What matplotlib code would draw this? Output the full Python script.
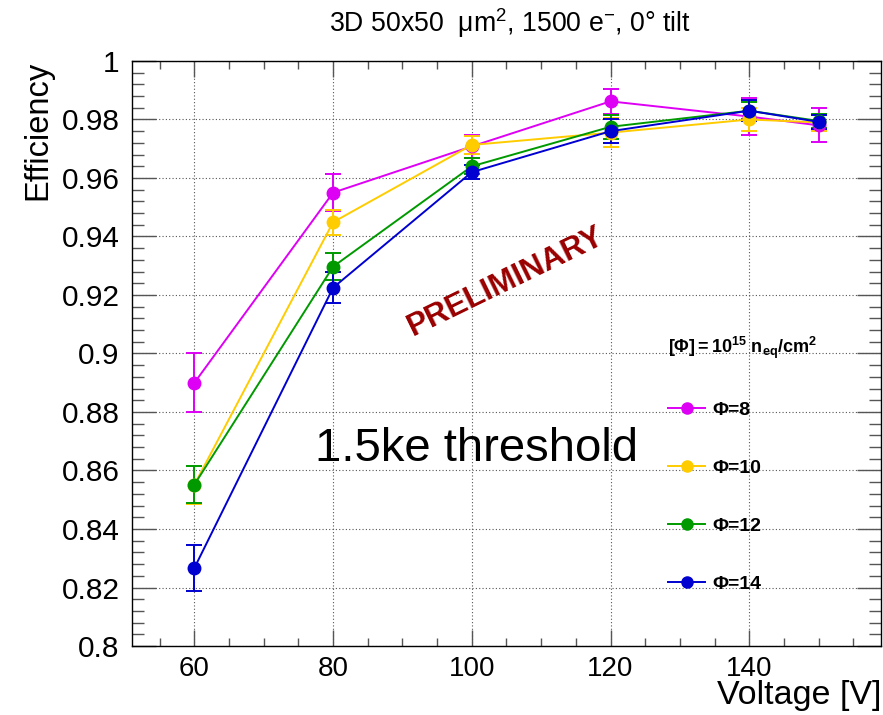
import matplotlib
matplotlib.use("Agg")
import matplotlib.pyplot as plt
from matplotlib.lines import Line2D
from matplotlib.ticker import MultipleLocator

plt.rcParams['font.family'] = ['Liberation Sans', 'DejaVu Sans']
plt.rcParams['mathtext.fontset'] = 'custom'
plt.rcParams['mathtext.rm'] = 'Liberation Sans'
plt.rcParams['mathtext.it'] = 'Liberation Sans:italic'
plt.rcParams['mathtext.bf'] = 'Liberation Sans:bold'

voltage = [60, 80, 100, 120, 140, 150]
labels = ["Φ=8", "Φ=10", "Φ=12", "Φ=14"]
colors = ["#dd00f5", "#ffcc00", "#009a00", "#0000d0"]
eff_phi8 = [0.890, 0.9550, 0.9708, 0.9862, 0.9810, 0.9780]
err_phi8 = [0.0100, 0.0064, 0.0038, 0.0042, 0.0063, 0.0058]
eff_phi10 = [0.8552, 0.9449, 0.9713, 0.9755, 0.9800, 0.9790]
err_phi10 = [0.0065, 0.0043, 0.0030, 0.0050, 0.0040, 0.0030]
eff_phi12 = [0.8552, 0.9297, 0.9640, 0.9775, 0.9830, 0.9795]
err_phi12 = [0.0063, 0.0045, 0.0028, 0.0040, 0.0030, 0.0025]
eff_phi14 = [0.8267, 0.9225, 0.9620, 0.9760, 0.9830, 0.9792]
err_phi14 = [0.0080, 0.0053, 0.0025, 0.0040, 0.0035, 0.0025]

series = [(eff_phi8, err_phi8), (eff_phi10, err_phi10),
          (eff_phi12, err_phi12), (eff_phi14, err_phi14)]

fig = plt.figure(figsize=(8.83, 7.15), dpi=100)
ax = fig.add_axes([0.1495, 0.0965, 0.8482, 0.8182])

for (y, e), c in zip(series, colors):
    ax.errorbar(voltage, y, yerr=e, color=c, marker='o', ms=9, lw=1.4,
                elinewidth=1.4, capsize=6, capthick=1.4)

ax.set_xlim(51, 159)
ax.set_ylim(0.8, 1.0)
ax.xaxis.set_major_locator(MultipleLocator(20))
ax.xaxis.set_minor_locator(MultipleLocator(5))
ax.yaxis.set_minor_locator(MultipleLocator(0.004))
ax.set_yticks([0.8, 0.82, 0.84, 0.86, 0.88, 0.9, 0.92, 0.94, 0.96, 0.98, 1.0])
ax.set_yticklabels(["0.8", "0.82", "0.84", "0.86", "0.88", "0.9", "0.92", "0.94", "0.96", "0.98", "1"])

ax.tick_params(axis='both', which='both', direction='in', top=True, right=True,
               color='#555555', width=1)
ax.tick_params(axis='x', which='major', length=11.5, labelsize=20, pad=7)
ax.tick_params(axis='x', which='minor', length=5.8)
ax.tick_params(axis='y', which='major', length=17, labelsize=21.5, pad=9)
ax.tick_params(axis='y', which='minor', length=8.6)
for s in ax.spines.values():
    s.set_linewidth(1.0)

ax.grid(True, which='major', linestyle=(0, (1, 2)), color='#555555', lw=0.8)
ax.set_axisbelow(True)

ax.set_xlabel("Voltage [V]", fontsize=24.5, loc='right', labelpad=-1)
ax.set_ylabel("Efficiency", fontsize=23.5, loc='top', labelpad=6)

fig.text(0.578, 0.968, "3D 50x50  μm$^{2}$, 1500 e$^{-}$, 0° tilt",
         ha='center', va='center', fontsize=19.2)

ax.text(0.244, 0.337, "1.5ke threshold", transform=ax.transAxes,
        fontsize=34, ha='left', va='center', color='black')
ax.text(0.499, 0.622, "PRELIMINARY", transform=ax.transAxes, fontsize=22.5,
        fontweight='bold', color='#990000', rotation=26,
        ha='center', va='center', rotation_mode='anchor')

handles = [Line2D([], [], color=c, marker='o', ms=8, lw=1.4) for c in colors]
leg = ax.legend(handles, labels, loc='upper left', bbox_to_anchor=(0.716, 0.532),
                frameon=False, prop={'weight': 'bold', 'size': 14},
                title=r"$\mathbf{[\Phi] = 10^{15}\ n_{eq}/cm^{2}}$",
                title_fontsize=13, alignment='left', handlelength=1.9,
                handletextpad=0.35, labelspacing=2.08, borderpad=0,
                borderaxespad=0)

fig.savefig("out.png", dpi=100)
